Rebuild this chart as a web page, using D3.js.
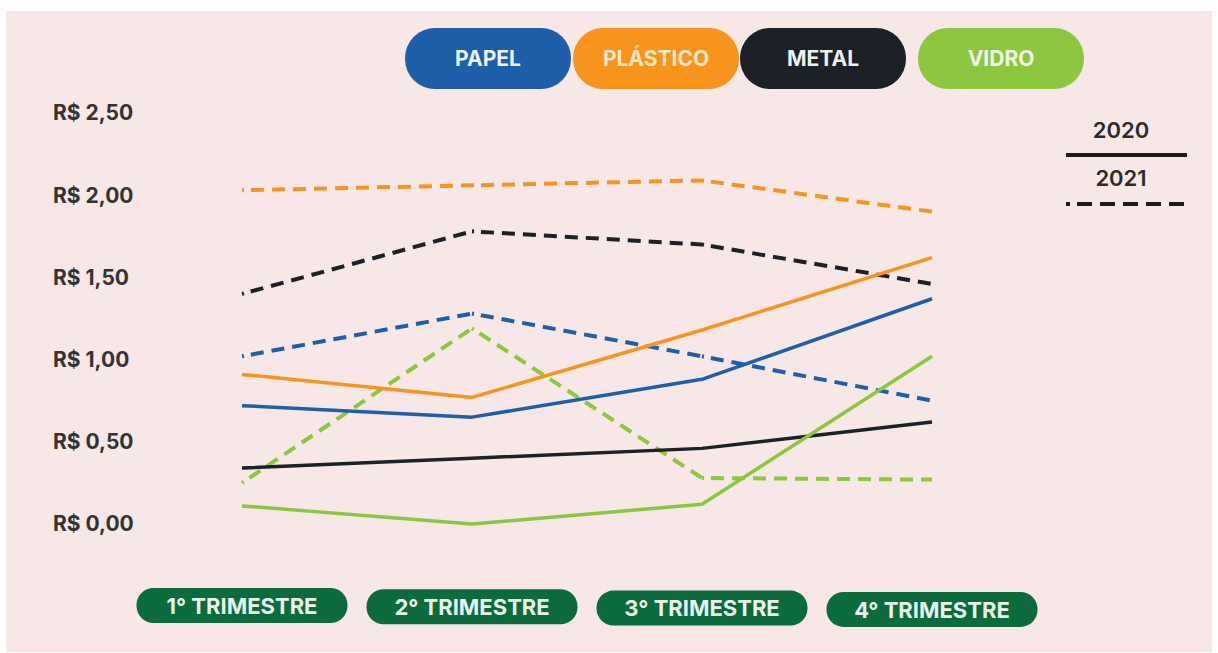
<!DOCTYPE html>
<html>
<head>
<meta charset="utf-8">
<script src="https://cdn.jsdelivr.net/npm/d3@7"></script>
<style>
  body { margin: 0; background: #ffffff; }
  text { font-family: "Inter", "Roboto", sans-serif; }
</style>
</head>
<body>
<div id="chart"></div>
<script>
// data
var quarters = ["1° TRIMESTRE", "2° TRIMESTRE", "3° TRIMESTRE", "4° TRIMESTRE"];
var materials = ["PAPEL", "PLÁSTICO", "METAL", "VIDRO"];
var yTicks = [0, 0.5, 1, 1.5, 2, 2.5];
var yTickLabels = ["R$ 0,00", "R$ 0,50", "R$ 1,00", "R$ 1,50", "R$ 2,00", "R$ 2,50"];
var years = ["2020", "2021"];

var papel2020 = [0.72, 0.65, 0.88, 1.37];
var papel2021 = [1.02, 1.28, 1.02, 0.75];
var plastico2020 = [0.91, 0.77, 1.18, 1.62];
var plastico2021 = [2.03, 2.06, 2.09, 1.90];
var metal2020 = [0.34, 0.40, 0.46, 0.62];
var metal2021 = [1.40, 1.78, 1.70, 1.46];
var vidro2020 = [0.11, 0.0, 0.12, 1.02];
var vidro2021 = [0.25, 1.19, 0.28, 0.27];

var colors = ["#1f5ea8", "#f7941d", "#1c2127", "#8dc63f"];
var textColors = ["#eef3f6", "#fde6c4", "#eef1f0", "#f3f7e6"];

var series = [
  { mat: 1, year: "2021", values: plastico2021 },
  { mat: 2, year: "2021", values: metal2021 },
  { mat: 0, year: "2021", values: papel2021 },
  { mat: 3, year: "2021", values: vidro2021 },
  { mat: 1, year: "2020", values: plastico2020 },
  { mat: 0, year: "2020", values: papel2020 },
  { mat: 2, year: "2020", values: metal2020 },
  { mat: 3, year: "2020", values: vidro2020 }
];

// dash pattern for 2021: a dot at the start of each segment, then dashes
var dash2021 = [2, 7];
for (var k = 0; k < 20; k++) dash2021.push(13, 8);
dash2021.push(2000);

var svgWidth = 1218;
var svgHeight = 653;

var svg = d3.select("#chart")
  .append("svg")
  .attr("width", svgWidth)
  .attr("height", svgHeight);

// background panel
svg.append("rect")
  .attr("x", 6).attr("y", 11)
  .attr("width", 1206).attr("height", 641)
  .attr("fill", "#f7e7e6");

// scales
var x = d3.scalePoint().domain(quarters).range([242, 932]);
var y = d3.scaleLinear().domain([0, 2.5]).range([524, 113]);

// y labels
svg.append("g")
  .selectAll("text")
  .data(yTicks)
  .enter()
  .append("text")
  .attr("x", 53)
  .attr("y", function(d) { return y(d); })
  .attr("dy", "0.35em")
  .attr("font-size", 21)
  .attr("font-weight", 700)
  .attr("fill", "#333333")
  .text(function(d, i) { return yTickLabels[i]; });

// lines
var line = d3.line()
  .x(function(d) { return x(quarters[d.i]); })
  .y(function(d) { return y(d.v); });

// solid 2020 lines as one path, dashed 2021 lines drawn per segment
var lineGroup = svg.append("g");
series.forEach(function(s) {
  var pts = s.values.map(function(v, i) { return { i: i, v: v }; });
  if (s.year == "2020") {
    lineGroup.append("path")
      .attr("d", line(pts))
      .attr("fill", "none")
      .attr("stroke", colors[s.mat])
      .attr("stroke-width", 3.5)
      .attr("stroke-linejoin", "round");
  } else {
    var segs = d3.pairs(pts);
    lineGroup.selectAll(null)
      .data(segs)
      .enter()
      .append("path")
      .attr("d", function(p) { return line(p); })
      .attr("fill", "none")
      .attr("stroke", colors[s.mat])
      .attr("stroke-width", 4)
      .attr("stroke-dasharray", dash2021.join(","));
  }
});

// material legend pills
var pillX = [405, 573, 740, 918];
var pillW = 166;
var pills = svg.append("g")
  .selectAll("g")
  .data(materials)
  .enter()
  .append("g")
  .attr("transform", function(d, i) { return "translate(" + pillX[i] + ",28)"; });

pills.append("rect")
  .attr("width", pillW)
  .attr("height", 61)
  .attr("rx", 30)
  .attr("fill", function(d, i) { return colors[i]; });

pills.append("text")
  .attr("x", pillW / 2)
  .attr("y", 31)
  .attr("dy", "0.35em")
  .attr("text-anchor", "middle")
  .attr("font-family", "Roboto")
  .attr("font-size", 21)
  .attr("font-weight", 700)
  .attr("fill", function(d, i) { return textColors[i]; })
  .text(function(d) { return d; });

// year legend
var yearLegend = svg.append("g").attr("transform", "translate(1066,0)");
yearLegend.selectAll("text")
  .data(years)
  .enter()
  .append("text")
  .attr("x", 55)
  .attr("y", function(d, i) { return 130 + i * 48; })
  .attr("dy", "0.35em")
  .attr("text-anchor", "middle")
  .attr("font-size", 22)
  .attr("font-weight", 600)
  .attr("fill", "#2b2b2b")
  .text(function(d) { return d; });

yearLegend.selectAll("line")
  .data(years)
  .enter()
  .append("line")
  .attr("x1", 0)
  .attr("x2", 121)
  .attr("y1", function(d, i) { return 155 + i * 49; })
  .attr("y2", function(d, i) { return 155 + i * 49; })
  .attr("stroke", "#1c1c1c")
  .attr("stroke-width", 4)
  .attr("stroke-dasharray", function(d) { return d == "2021" ? "4,7,15,8,15,8,15,8,15,8,15,8,15,8" : null; });

// quarter pills
var qW = 211;
var qPills = svg.append("g")
  .selectAll("g")
  .data(quarters)
  .enter()
  .append("g")
  .attr("transform", function(d, i) { return "translate(" + (x(d) - qW / 2) + "," + (588 + i * 1.3) + ")"; });

qPills.append("rect")
  .attr("width", qW)
  .attr("height", 35)
  .attr("rx", 17)
  .attr("fill", "#0b6b3c");

qPills.append("text")
  .attr("x", qW / 2)
  .attr("y", 18)
  .attr("dy", "0.35em")
  .attr("text-anchor", "middle")
  .attr("font-family", "Roboto")
  .attr("font-size", 22)
  .attr("font-weight", 700)
  .attr("fill", "#e9f3ec")
  .text(function(d) { return d; });
</script>
</body>
</html>
